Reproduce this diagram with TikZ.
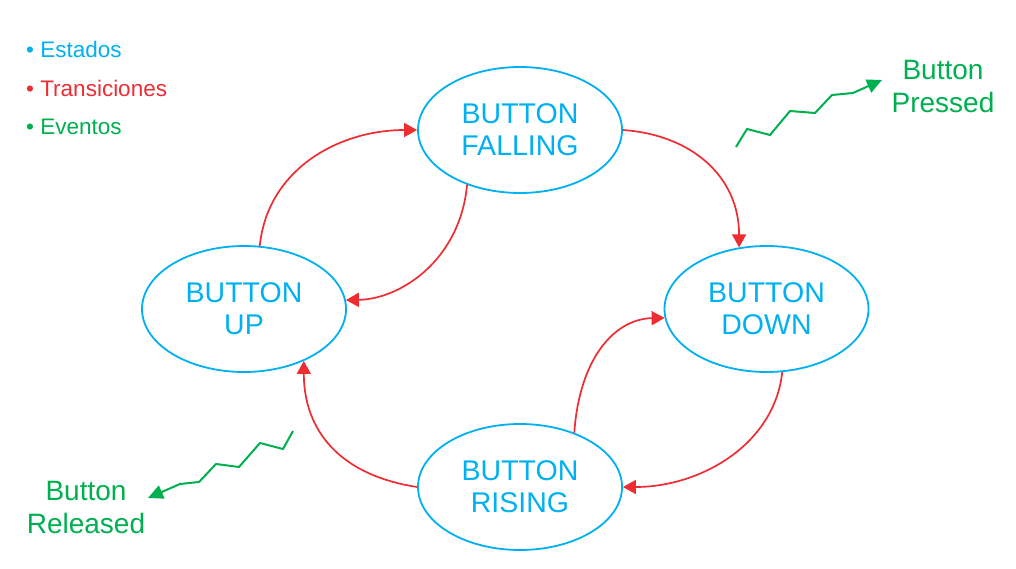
\documentclass[tikz,border=0pt]{standalone}
\usepackage{fontspec}
\setmainfont{Liberation Sans}
\usetikzlibrary{arrows.meta,shapes.geometric}
\definecolor{stblue}{RGB}{0,176,240}
\definecolor{trred}{RGB}{237,45,50}
\definecolor{evgreen}{RGB}{0,176,80}
\tikzset{
  state/.style={ellipse, draw=stblue, line width=1.8pt, text=stblue,
    minimum width=204pt, minimum height=126pt, inner sep=0pt, align=center,
    font=\fontsize{28.5}{32}\selectfont},
  trans/.style={draw=trred, line width=1.7pt, -{Triangle[length=13pt,width=14pt]}},
  event/.style={draw=evgreen, line width=2pt, line join=miter, -{Triangle[length=15pt,width=14pt]}},
  evlabel/.style={text=evgreen, align=center, font=\fontsize{28}{33}\selectfont, inner sep=0pt},
  legend/.style={anchor=base west, inner sep=0pt, font=\fontsize{22.5}{27}\selectfont}
}
\begin{document}
\begin{tikzpicture}[x=1pt,y=-1pt]
\useasboundingbox[fill=white] (0,0) rectangle (1016,569);

% legend
\node[legend, text=stblue] (l1) at (26,58) {• Estados};
\node[legend, text=trred] (l2) at (26,97) {• Transiciones};
\node[legend, text=evgreen] (l3) at (26,135) {• Eventos};

% states
\node[state] (fall) at (520,130) {BUTTON\\FALLING};
\node[state] (up) at (244,309) {BUTTON\\UP};
\node[state] (down) at (766.5,309) {BUTTON\\DOWN};
\node[state] (rise) at (520,487) {BUTTON\\RISING};

% transitions
\draw[trans] (up.76) .. controls +(8,-77) and +(-78,0) .. (fall.180);
\draw[trans] (fall.226) .. controls +(-7,75) and +(55,-1) .. (up.5);
\draw[trans] (fall.0) .. controls +(70,5) and +(0,-70) .. (down.114);
\draw[trans] (down.-76) .. controls +(-8,73) and +(77,0) .. (rise.0);
\draw[trans] (rise.45) .. controls +(5,-73) and +(-51,1) .. (down.185);
\draw[trans] (rise.180) .. controls +(-78,-12) and +(0,69) .. (up.-41);

% events
\node[evlabel] (pressed) at (943,87) {Button\\Pressed};
\node[evlabel] (released) at (86,507) {Button\\Released};
\coordinate (ptip) at (882,80);
\coordinate (rtip) at (148,498);
\draw[event] (736,147) -- (747,129) -- (770,135) -- (790,111) -- (815,113) -- (832,95) -- (853,93) -- (ptip);
\draw[event] (293,431) -- (283,449) -- (260,443) -- (239,467) -- (216,464) -- (199,482) -- (180,484) -- (rtip);
\end{tikzpicture}
\end{document}
